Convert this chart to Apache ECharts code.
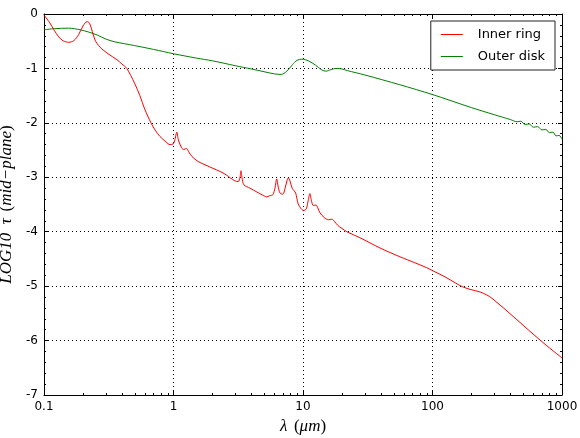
<!DOCTYPE html>
<html>
<head>
<meta charset="utf-8">
<script src="https://cdn.jsdelivr.net/npm/echarts@6/dist/echarts.min.js"></script>
<style>html,body{margin:0;padding:0;background:#fff}#c{width:580px;height:438px}</style>
</head>
<body>
<div id="c"></div>
<script>
// ---- data ----
const seriesNames = ['Inner ring', 'Outer disk'];
const seriesColors = ['#ff0000', '#008000'];
const innerX = [0.1,0.11,0.12,0.13,0.14,0.155,0.17,0.185,0.2,0.215,0.225,0.248,0.271,0.312,0.366,0.4,0.436,0.5,0.55,0.6,0.67,0.72,0.786,0.874,0.94,0.99,1.02,1.06,1.09,1.155,1.2,1.26,1.31,1.39,1.55,1.91,2.41,3.15,3.26,3.32,3.38,3.5,3.9,4.4,4.9,5.25,5.5,5.85,6.07,6.27,6.42,6.65,7.0,7.27,7.55,7.7,7.94,8.24,8.55,8.78,9.18,9.69,10.1,10.6,10.98,11.3,11.6,12.0,12.6,13.0,13.5,14.6,15.7,16.7,17.5,18.5,20.0,21.8,27.5,39.4,56,73,90,101,125,150,170,195,235,287,676,1000];
const innerY = [-0.02,-0.15,-0.3,-0.42,-0.49,-0.52,-0.49,-0.38,-0.22,-0.14,-0.17,-0.48,-0.61,-0.73,-0.84,-0.92,-1.0,-1.27,-1.5,-1.75,-2.0,-2.13,-2.25,-2.35,-2.4,-2.39,-2.33,-2.17,-2.31,-2.46,-2.49,-2.47,-2.53,-2.62,-2.71,-2.81,-2.92,-3.08,-3.0,-2.88,-3.01,-3.14,-3.2,-3.27,-3.33,-3.36,-3.34,-3.32,-3.2,-3.03,-3.16,-3.29,-3.31,-3.2,-3.05,-3.01,-3.07,-3.2,-3.25,-3.29,-3.49,-3.58,-3.61,-3.58,-3.42,-3.3,-3.42,-3.52,-3.51,-3.56,-3.65,-3.74,-3.78,-3.77,-3.81,-3.88,-3.94,-4.0,-4.11,-4.3,-4.46,-4.57,-4.66,-4.72,-4.83,-4.94,-5.01,-5.06,-5.11,-5.22,-5.99,-6.32];
const outerX = [0.1,0.12,0.155,0.19,0.22,0.26,0.3,0.35,0.5,0.7,1.0,1.5,2.0,3.0,4.0,5.0,6.0,6.8,7.5,8.3,9.0,9.8,11,12.5,14,15,16.5,18,20,22,30,56,100,200,300,400,450,480,520,560,600,650,700,750,800,850,900,950,1000];
const outerY = [-0.29,-0.27,-0.26,-0.29,-0.33,-0.39,-0.46,-0.51,-0.58,-0.65,-0.73,-0.81,-0.86,-0.95,-1.01,-1.06,-1.1,-1.11,-1.05,-0.93,-0.85,-0.83,-0.86,-0.94,-1.03,-1.05,-1.02,-1.0,-1.01,-1.04,-1.12,-1.3,-1.48,-1.72,-1.85,-1.94,-1.98,-1.97,-2.03,-2.02,-2.08,-2.07,-2.13,-2.12,-2.18,-2.17,-2.24,-2.23,-2.3];
const xTickLabels = ['0.1','1','10','100','1000'];
const yTicks = [-7,-6,-5,-4,-3,-2,-1,0];
const minorMultipliers = [2,3,4,5,6,7,8,9];
const decades = [0.1,1,10,100];

// ---- build ----
const inner = innerX.map((x,i)=>[x, innerY[i]]);
const outer = outerX.map((x,i)=>[x, outerY[i]]);
const minorTicks = [];
decades.forEach(d => minorMultipliers.forEach(m => minorTicks.push([+(d*m).toPrecision(3)])));

const labelFont = 'DejaVu Sans';
const mathFont = 'Liberation Serif';
const richMath = {
  m: {fontFamily: mathFont, fontStyle: 'italic', fontSize: 17, color: '#000'},
  n: {fontFamily: mathFont, fontSize: 17, color: '#000'}
};

const chart = echarts.init(document.getElementById('c'), null, {renderer:'canvas'});
chart.setOption({
  animation: false,
  backgroundColor: '#fff',
  grid: {left: 44, right: 18, top: 14, bottom: 43, containLabel: false, outerBoundsMode: 'none'},
  legend: {
    data: seriesNames.map((n,i)=>({name: n, itemStyle: {color: seriesColors[i]}})),
    orient: 'vertical',
    right: 25, top: 21,
    padding: [7, 10, 7, 10],
    itemGap: 9,
    itemWidth: 22, itemHeight: 1,
    icon: 'rect',
    borderColor: '#222', borderWidth: 1,
    backgroundColor: '#fff',
    textStyle: {fontFamily: labelFont, fontSize: 13, color: '#000', padding: [0,0,0,10]}
  },
  xAxis: [{
    type: 'log', logBase: 10, min: 0.1, max: 1000,
    position: 'bottom',
    name: '{m|λ}  {n|(}{m|μm}{n|)}',
    nameLocation: 'middle', nameGap: 18,
    nameTextStyle: {rich: richMath},
    axisLine: {show: true, onZero: false, lineStyle: {color: '#000', width: 1}},
    axisTick: {show: true, inside: true, length: 4, lineStyle: {color: '#000'}},
    axisLabel: {fontFamily: labelFont, fontSize: 12, color: '#000', margin: 6,
      formatter: v => { const e = Math.round(Math.log10(v)); return xTickLabels[e+1] || ''; }},
    splitLine: {show: true, lineStyle: {color: '#000', type: [1,3], width: 1}}
  }, {
    type: 'log', logBase: 10, min: 0.1, max: 1000,
    position: 'top',
    axisLine: {show: true, onZero: false, lineStyle: {color: '#000', width: 1}},
    axisTick: {show: true, inside: true, length: 4, lineStyle: {color: '#000'}},
    axisLabel: {show: false},
    splitLine: {show: false}
  }],
  yAxis: [{
    type: 'value', min: -7, max: 0, interval: 1,
    position: 'left',
    name: '{m|LOG10  τ}  {n|(}{m|mid−plane}{n|)}',
    nameLocation: 'middle', nameGap: 20, nameRotate: 90,
    nameTextStyle: {rich: richMath},
    axisLine: {show: true, onZero: false, lineStyle: {color: '#000', width: 1}},
    axisTick: {show: true, inside: true, length: 4, lineStyle: {color: '#000'}},
    minorTick: {show: true, splitNumber: 5, length: 2, lineStyle: {color: '#000'}},
    axisLabel: {fontFamily: labelFont, fontSize: 12, color: '#000', margin: 6,
      formatter: v => yTicks.indexOf(v) >= 0 ? String(v) : ''},
    splitLine: {show: true, lineStyle: {color: '#000', type: [1,3], width: 1}}
  }, {
    type: 'value', min: -7, max: 0, interval: 1,
    position: 'right',
    axisLine: {show: true, onZero: false, lineStyle: {color: '#000', width: 1}},
    axisTick: {show: true, inside: true, length: 4, lineStyle: {color: '#000'}},
    minorTick: {show: true, splitNumber: 5, length: 2, lineStyle: {color: '#000'}},
    axisLabel: {show: false},
    splitLine: {show: false}
  }],
  series: [{
    name: seriesNames[0], type: 'line', data: inner, xAxisIndex: 0, yAxisIndex: 0,
    showSymbol: false, smooth: 0.3, lineStyle: {color: seriesColors[0], width: 1}, itemStyle: {color: seriesColors[0]}, z: 3
  }, {
    name: seriesNames[1], type: 'line', data: outer, xAxisIndex: 0, yAxisIndex: 0,
    showSymbol: false, smooth: 0.3, lineStyle: {color: seriesColors[1], width: 1}, itemStyle: {color: seriesColors[1]}, z: 2
  }, {
    type: 'custom', xAxisIndex: 0, yAxisIndex: 0, data: minorTicks, silent: true, clip: false,
    renderItem: (params, api) => {
      const v = api.value(0);
      const b = api.coord([v, -7]);
      const t = api.coord([v, 0]);
      const x = Math.round(b[0]) + 0.5;
      return {type: 'group', children: [
        {type: 'line', shape: {x1: x, y1: b[1], x2: x, y2: b[1] - 2}, style: {stroke: '#000', lineWidth: 1}},
        {type: 'line', shape: {x1: x, y1: t[1], x2: x, y2: t[1] + 2}, style: {stroke: '#000', lineWidth: 1}}
      ]};
    }
  }]
});
</script>
</body>
</html>
